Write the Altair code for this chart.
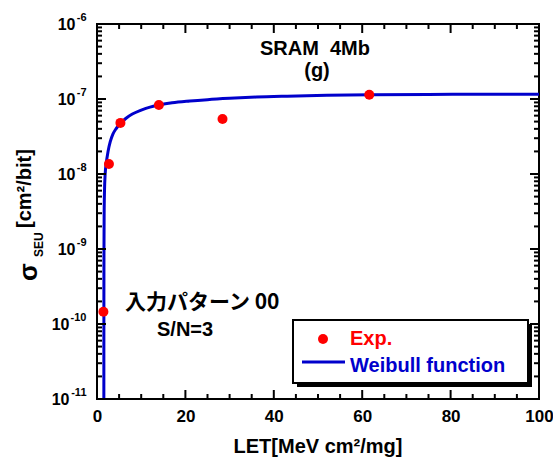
import math
import altair as alt
import pandas as pd

# ---- data ----
let_exp = [1.45, 2.7, 5.3, 14.0, 28.4, 61.6]
sigma_exp = [1.46e-10, 1.36e-8, 4.8e-8, 8.3e-8, 5.4e-8, 1.14e-7]

let_fit = [1.55, 1.56, 1.58, 1.62, 1.7, 1.85, 2.1, 2.5, 3.0, 3.6, 4.3, 5.3, 6.5, 8,
           10, 12, 14, 17, 21, 25, 30, 36, 43, 52, 62, 75, 88, 100]
sigma_fit = [5e-12, 2e-10, 1e-9, 3e-9, 6e-9, 1.0e-8, 1.4e-8, 2.0e-8, 2.7e-8, 3.4e-8,
             4.0e-8, 4.7e-8, 5.5e-8, 6.3e-8, 7.1e-8, 7.8e-8, 8.3e-8, 8.9e-8, 9.4e-8,
             9.8e-8, 1.02e-7, 1.06e-7, 1.09e-7, 1.12e-7, 1.14e-7, 1.15e-7, 1.16e-7, 1.16e-7]

x_major = [0, 20, 40, 60, 80, 100]
x_minor = [5, 10, 15, 25, 30, 35, 45, 50, 55, 65, 70, 75, 85, 90, 95]
y_major = [1e-11, 1e-10, 1e-9, 1e-8, 1e-7, 1e-6]
y_major_base = "10"
y_major_exps = ["-11", "-10", "-9", "-8", "-7", "-6"]
y_minor = [m * d for d in y_major[:-1] for m in range(2, 10)]

legend_labels = ["Exp.", "Weibull function"]
title_lines = ["SRAM\u00a0\u00a04Mb", "(g)"]
pattern_text = ["入力パターン 00", "S/N=3"]
y_title_parts = ["σ", "SEU", "[cm²/bit]"]
x_title = "LET[MeV cm²/mg]"

RED = "#FF0000"
BLUE = "#0000CC"
FONT = "Liberation Sans"
CJK = "Noto Sans CJK JP"

W, H = 442, 375

exp_df = pd.DataFrame({"LET": let_exp, "sigma": sigma_exp})
fit_df = pd.DataFrame({"LET": let_fit, "sigma": sigma_fit})

xs = alt.Scale(domain=[0, 100], nice=False, zero=False)
ys = alt.Scale(type="log", domain=[1e-11, 1e-6], nice=False)

EXP_OF = "round(log(datum.value)/LN10)"
exp_label_expr = "".join(
    f"{EXP_OF} == {round(math.log10(v))} ? '{lab}' : "
    for v, lab in zip(y_major, y_major_exps)
) + "''"


def xticks(values, size, top):
    y0 = 0 if top else H
    y1 = size if top else H - size
    return alt.Chart(pd.DataFrame({"v": values})).mark_rule(
        color="black", strokeWidth=2).encode(
        x=alt.X("v:Q", scale=xs, axis=None), y=alt.value(y0), y2=alt.value(y1))


def yticks(values, size, right):
    x0 = W if right else 0
    x1 = W - size if right else size
    return alt.Chart(pd.DataFrame({"v": values})).mark_rule(
        color="black", strokeWidth=2).encode(
        y=alt.Y("v:Q", scale=ys, axis=None), x=alt.value(x0), x2=alt.value(x1))


def build(base_padding):
    curve = alt.Chart(fit_df).mark_line(color=BLUE, strokeWidth=3, clip=True,
                                        interpolate="monotone").encode(
        x=alt.X("LET:Q", scale=xs,
                axis=alt.Axis(orient="bottom", values=x_major, ticks=False, tickSize=0,
                              domain=False, grid=False, labelFontSize=17, labelFont=FONT,
                              labelFontWeight="bold", labelColor="black", labelPadding=9,
                              labelFlush=False, labelOverlap=False, title=None)),
        y=alt.Y("sigma:Q", scale=ys,
                axis=alt.Axis(orient="left", values=y_major, ticks=False, tickSize=0,
                              domain=False, grid=False, labelExpr=f"'{y_major_base}'",
                              labelFontSize=16, labelFont=FONT, labelFontWeight="bold",
                              labelColor="black", labelPadding=base_padding,
                              labelFlush=False, labelOverlap=False,
                              labelBaseline="middle", title=None)),
    )

    exps = alt.Chart(exp_df).mark_point(opacity=0).encode(
        x=alt.X("LET:Q", scale=xs, axis=None),
        y=alt.Y("sigma:Q", scale=ys,
                axis=alt.Axis(orient="left", values=y_major, ticks=False, tickSize=0,
                              domain=False, grid=False, labelExpr=exp_label_expr,
                              labelFontSize=11, labelFont=FONT, labelFontWeight="bold",
                              labelColor="black", labelPadding=11, labelOffset=-7,
                              labelFlush=False, labelOverlap=False,
                              labelBaseline="middle", title=None)),
    )

    points = alt.Chart(exp_df).mark_circle(color=RED, size=100, opacity=1).encode(
        x=alt.X("LET:Q", scale=xs, axis=None), y=alt.Y("sigma:Q", scale=ys, axis=None)
    )

    def txt(s, x, y, size, color="black", font=FONT, align="left", angle=0):
        kw = dict(font=font, fontSize=size, fontWeight="bold", color=color, align=align,
                  baseline="alphabetic")
        if angle:
            kw["angle"] = angle
        return alt.Chart(pd.DataFrame({"t": [s]})).mark_text(**kw).encode(
            text="t:N", x=alt.value(x), y=alt.value(y))

    def box(x1, y1, x2, y2, fill, stroke=None):
        kw = dict(fill=fill)
        if stroke:
            kw.update(stroke=stroke, strokeWidth=2)
        return alt.Chart(pd.DataFrame({"a": [0]})).mark_rect(**kw).encode(
            x=alt.value(x1), x2=alt.value(x2), y=alt.value(y1), y2=alt.value(y2))

    legend_shadow = box(200, 300, 435, 363, "black")
    legend_box = box(196, 296, 431, 359, "white", "black")
    legend_dot = alt.Chart(pd.DataFrame({"a": [0]})).mark_circle(
        color=RED, size=100, opacity=1).encode(x=alt.value(226), y=alt.value(315))
    legend_line = alt.Chart(pd.DataFrame({"a": [0]})).mark_rule(
        color=BLUE, strokeWidth=3).encode(x=alt.value(205), x2=alt.value(248), y=alt.value(338))

    layers = [
        curve,
        exps,
        points,
        txt(title_lines[0], 218, 31, 20, align="center"),
        txt(title_lines[1], 220, 53, 20, align="center"),
        txt(pattern_text[0], 28, 285, 21, font=CJK),
        txt(pattern_text[1], 60, 312, 20),
        legend_shadow,
        legend_box,
        legend_dot,
        legend_line,
        txt(legend_labels[0], 253, 321, 20, color=RED),
        txt(legend_labels[1], 253, 348, 20, color=BLUE),
        txt(x_title, 221, 429, 20, align="center"),
        txt(y_title_parts[0], -60, 257, 26, angle=270),
        txt(y_title_parts[1], -54, 233, 12, angle=270),
        txt(y_title_parts[2], -66, 204, 20, angle=270),
        xticks(x_major, 9, False),
        xticks(x_major, 9, True),
        xticks(x_minor, 5, False),
        xticks(x_minor, 5, True),
        yticks(y_major, 9, False),
        yticks(y_major, 9, True),
        yticks(y_minor, 5, False),
        yticks(y_minor, 5, True),
    ]

    return alt.layer(*layers).resolve_axis(x="independent", y="independent").properties(
        width=W, height=H,
        autosize=alt.AutoSizeParams(type="none"),
        padding={"left": 97, "top": 24, "right": 14, "bottom": 59},
        background="white",
    ).configure_view(stroke="black", strokeWidth=2)


# two-digit exponents need the "10" further from the axis
cond_padding = {"condition": {"test": "datum.value < 5e-10", "value": 28}, "value": 22}
try:
    chart = build(cond_padding)
    chart.to_dict()
except Exception:
    chart = build(24)

chart.save("out.html", embed_options={"renderer": "svg", "actions": False})
